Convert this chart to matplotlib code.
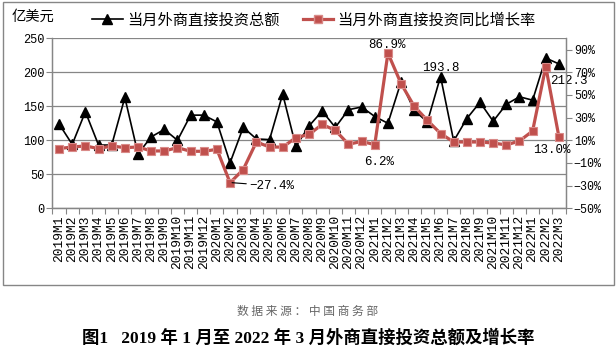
import numpy as np
import matplotlib
matplotlib.use('Agg')
import matplotlib.pyplot as plt
from matplotlib.patches import Rectangle

# data
months = ([f'2019M{m}' for m in range(1, 13)] + [f'2020M{m}' for m in range(1, 13)]
          + [f'2021M{m}' for m in range(1, 13)] + [f'2022M{m}' for m in range(1, 4)])
amount = [124, 94, 142, 93, 93, 163, 80, 105, 116, 100, 137, 137,
          127, 67, 119, 102, 101, 168, 91, 121, 143, 119, 145, 149,
          135, 125, 186, 144, 127, 193.8, 99, 132, 156, 128, 153, 164,
          159, 221, 212.3]
growth = [2.7, 4.1, 5.0, 2.7, 5.0, 3.5, 4.1, 0.6, 0.6, 3.5, 0.3, 0.3,
          2.0, -27.4, -15.8, 8.5, 4.1, 4.0, 12.3, 15.2, 24.0, 18.8, 6.5, 9.0,
          6.2, 86.9, 60.0, 40.0, 27.6, 16.0, 8.5, 8.5, 8.5, 7.6, 5.9, 9.4,
          18.2, 75.0, 13.0]
left_ticks = [0, 50, 100, 150, 200, 250]
right_ticks = [-50, -30, -10, 10, 30, 50, 70, 90]

MONO = ['Liberation Mono', 'DejaVu Sans Mono']
CJK = ['Noto Sans CJK SC', 'DejaVu Sans']
GRAY = '#868686'
RED = '#C0504D'

W, H = 616, 350
fig = plt.figure(figsize=(W / 100, H / 100), dpi=100)


def fx(px):
    return px / W


def fy(py):
    return 1 - py / H


ax = fig.add_axes([fx(52.5), fy(208.3), fx(565.5) - fx(52.5), fy(38.3) - fy(208.3)])
ax2 = ax.twinx()

x = np.arange(len(months))
ax.plot(x, amount, color='black', lw=1.2, marker='^', ms=6.5, zorder=3)
ax2.plot(x, growth, color=RED, lw=2.3, marker='s', ms=5.5,
         markerfacecolor=RED, markeredgecolor='#d98a88', markeredgewidth=0.8)

ax.set_xlim(-0.5, len(months) - 0.5)
ax.set_ylim(0, 250)
ax2.set_ylim(-50, 100)

ax.set_yticks(left_ticks)
ax.set_yticklabels([str(t) for t in left_ticks], fontfamily=MONO, fontsize=8.6)
ax2.set_yticks(right_ticks)
ax2.set_yticklabels([f'{t}%'.replace('-', '\u2212') for t in right_ticks],
                    fontfamily=MONO, fontsize=8.4)

ax.set_xticks(np.arange(-0.5, len(months), 1.0))
ax.set_xticklabels([])
ax.set_xticks(x, minor=True)
ax.set_xticklabels(months, minor=True, rotation=90, fontfamily=MONO, fontsize=9.3,
                   va='top', ha='center')
ax.tick_params(axis='x', which='minor', length=0, pad=5)
ax.tick_params(axis='x', which='major', length=4, direction='out', color=GRAY)
ax.tick_params(axis='y', length=4, direction='out', color=GRAY, pad=2)
ax2.tick_params(axis='y', length=4, direction='out', color=GRAY, pad=2)

ax.grid(axis='y', color=GRAY, lw=0.9)
ax.set_axisbelow(True)
for a in (ax, ax2):
    a.spines['top'].set_visible(False)
    for s in ('left', 'right', 'bottom'):
        a.spines[s].set_color(GRAY)
        a.spines[s].set_linewidth(0.9)

# data labels
lab = dict(fontfamily=MONO, fontsize=9, color='black')
i = months.index('2021M6')
ax.annotate(f'{amount[i]}', (x[i], amount[i]), xytext=(0, 9), textcoords='offset pixels',
            ha='center', va='center', **lab)
i = months.index('2022M3')
ax.annotate(f'{amount[i]}', (x[i], amount[i]), xytext=(10, -17), textcoords='offset pixels',
            ha='center', va='center', **lab)
i = months.index('2021M2')
ax2.annotate(f'{growth[i]}%', (x[i], growth[i]), xytext=(-1, 8), textcoords='offset pixels',
             ha='center', va='center', **lab)
i = months.index('2021M1')
ax2.annotate(f'{growth[i]}%', (x[i], growth[i]), xytext=(4, -17), textcoords='offset pixels',
             ha='center', va='center', **lab)
i = months.index('2022M3')
ax2.annotate(f'{growth[i]}%', (x[i], growth[i]), xytext=(-7, -13), textcoords='offset pixels',
             ha='center', va='center', **lab)
i = months.index('2020M2')
ax2.annotate(f'{growth[i]}%'.replace('-', '\u2212'), (x[i] + 0.15, growth[i]),
             xytext=(17, -3), textcoords='offset pixels', ha='left', va='center',
             arrowprops=dict(arrowstyle='-', color='black', lw=0.8, shrinkA=0, shrinkB=0),
             **lab)

# legend
h1, = ax.plot([], [], color='black', lw=1.2, marker='^', ms=6.5)
h2, = ax.plot([], [], color=RED, lw=2.3, marker='s', ms=5.5,
              markerfacecolor=RED, markeredgecolor='#d98a88')
fig.legend([h1, h2], ['当月外商直接投资总额', '当月外商直接投资同比增长率'],
           loc='center left', bbox_to_anchor=(fx(92), fy(20)), ncol=2, frameon=False,
           prop={'family': CJK, 'size': 11}, handlelength=2.0, handletextpad=0.3,
           columnspacing=1.5, borderpad=0, borderaxespad=0)

fig.text(fx(12), fy(17), '亿美元', family=CJK, fontsize=10.3, va='center', ha='left')

# chart frame
fig.patches.append(Rectangle((fx(3), fy(285)), fx(614) - fx(3), fy(2) - fy(285),
                             transform=fig.transFigure, fill=False,
                             edgecolor=GRAY, lw=1))

fig.text(fx(308), fy(311), '数 据 来 源 ： 中 国 商 务 部', family=CJK, fontsize=8.5,
         color='#666666', ha='center', va='center')
fig.text(fx(308), fy(338), '图1   2019 年 1 月至 2022 年 3 月外商直接投资总额及增长率',
         family=['Liberation Serif', 'Noto Sans CJK SC'], fontsize=12.5,
         fontweight='bold', ha='center', va='center')

fig.savefig('out.png', dpi=100)
